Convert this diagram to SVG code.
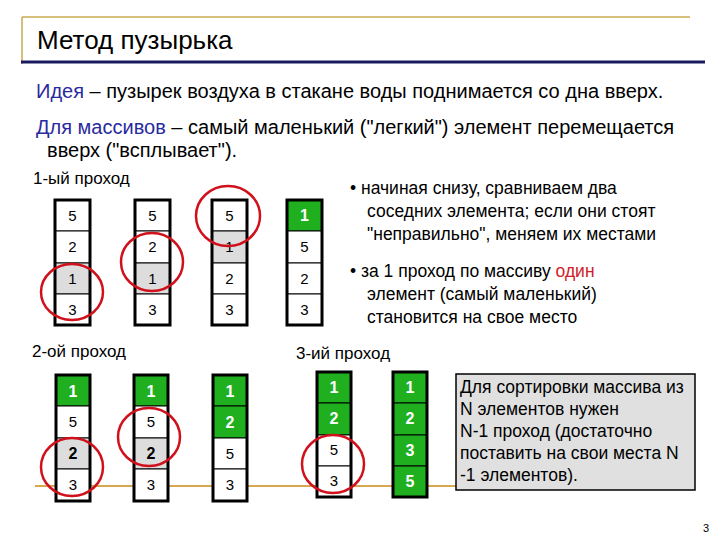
<svg xmlns="http://www.w3.org/2000/svg" width="720" height="540" viewBox="0 0 720 540">
<style>
text{font-family:"Liberation Sans",Arial,sans-serif;}
.t{font-size:20px;fill:#000}
.c{fill:#fff;stroke:#000;stroke-width:1}
.g{fill:#ddd;stroke:#000;stroke-width:1}
.k{fill:#1faf1f;stroke:#000;stroke-width:1}
.n{font-size:15px;text-anchor:middle;fill:#000}
.w{font-size:16px;text-anchor:middle;fill:#fff;font-weight:bold}
.b{font-size:16px;text-anchor:middle;fill:#000;font-weight:bold}
.o{fill:none;stroke:#000;stroke-width:3}
.r{fill:none;stroke:#d0101a;stroke-width:2.5}
</style>
<rect width="720" height="540" fill="#fff"/>
<g id="title">
<line x1="22" y1="17" x2="690" y2="17" stroke="#c8a850" stroke-width="1.5"/>
<line x1="22" y1="17" x2="22" y2="64" stroke="#c8a850" stroke-width="1.5"/>
<line x1="21" y1="62" x2="705" y2="62" stroke="#1a1a60" stroke-width="3"/>
<text x="37" y="49" font-size="26" fill="#000">Метод пузырька</text>
</g>
<g id="intro" class="t">
<text x="36" y="98"><tspan fill="#2a2aa0">Идея</tspan> – пузырек воздуха в стакане воды поднимается со дна вверх.</text>
<text x="36" y="134"><tspan fill="#2a2aa0">Для массивов</tspan> – самый маленький ("легкий") элемент перемещается</text>
<text x="47" y="157">вверх ("всплывает").</text>
<text x="33" y="184" font-size="17">1-ый проход</text>
<text x="32" y="357" font-size="17">2-ой проход</text>
<text x="296" y="359" font-size="17">3-ий проход</text>
</g>
<g id="bullets" font-size="17.5">
<text x="350" y="194"><tspan>• начиная снизу, сравниваем два</tspan></text>
<text x="367" y="217">соседних элемента; если они стоят</text>
<text x="367" y="240">"неправильно", меняем их местами</text>
<text x="350" y="277">• за 1 проход по массиву <tspan fill="#d0202a">один</tspan></text>
<text x="367" y="300">элемент (самый маленький)</text>
<text x="367" y="323">становится на свое место</text>
</g>
<line x1="35" y1="486" x2="456" y2="486" stroke="#d8a850" stroke-width="2"/>
<g id="pass1">
<rect class="c" x="55" y="200" width="35" height="31"/><text class="n" x="72.5" y="221">5</text>
<rect class="c" x="55" y="231" width="35" height="32"/><text class="n" x="72.5" y="252">2</text>
<rect class="g" x="55" y="263" width="35" height="31"/><text class="n" x="72.5" y="284">1</text>
<rect class="c" x="55" y="294" width="35" height="31"/><text class="n" x="72.5" y="315">3</text>
<rect class="o" x="55" y="200" width="35" height="125"/>
<rect class="c" x="135" y="200" width="35" height="31"/><text class="n" x="152.5" y="221">5</text>
<rect class="c" x="135" y="231" width="35" height="32"/><text class="n" x="152.5" y="252">2</text>
<rect class="g" x="135" y="263" width="35" height="31"/><text class="n" x="152.5" y="284">1</text>
<rect class="c" x="135" y="294" width="35" height="31"/><text class="n" x="152.5" y="315">3</text>
<rect class="o" x="135" y="200" width="35" height="125"/>
<rect class="c" x="212" y="200" width="35" height="31"/><text class="n" x="229.5" y="221">5</text>
<rect class="g" x="212" y="231" width="35" height="32"/><text class="n" x="229.5" y="252">1</text>
<rect class="c" x="212" y="263" width="35" height="31"/><text class="n" x="229.5" y="284">2</text>
<rect class="c" x="212" y="294" width="35" height="31"/><text class="n" x="229.5" y="315">3</text>
<rect class="o" x="212" y="200" width="35" height="125"/>
<rect class="k" x="287" y="200" width="35" height="31"/><text class="w" x="304.5" y="221">1</text>
<rect class="c" x="287" y="231" width="35" height="32"/><text class="n" x="304.5" y="252">5</text>
<rect class="c" x="287" y="263" width="35" height="31"/><text class="n" x="304.5" y="284">2</text>
<rect class="c" x="287" y="294" width="35" height="31"/><text class="n" x="304.5" y="315">3</text>
<rect class="o" x="287" y="200" width="35" height="125"/>
<ellipse class="r" cx="72" cy="292" rx="31" ry="28"/>
<ellipse class="r" cx="152" cy="262" rx="31" ry="29"/>
<ellipse class="r" cx="228" cy="216" rx="32" ry="30"/>
</g>
<g id="pass2">
<rect class="k" x="56" y="375" width="34" height="31"/><text class="w" x="73" y="397">1</text>
<rect class="c" x="56" y="406" width="34" height="32"/><text class="n" x="73" y="427">5</text>
<rect class="g" x="56" y="438" width="34" height="31"/><text class="b" x="73" y="459">2</text>
<rect class="c" x="56" y="469" width="34" height="32"/><text class="n" x="73" y="490">3</text>
<rect class="o" x="56" y="375" width="34" height="126"/>
<rect class="k" x="134" y="375" width="34" height="31"/><text class="w" x="151" y="397">1</text>
<rect class="c" x="134" y="406" width="34" height="32"/><text class="n" x="151" y="427">5</text>
<rect class="g" x="134" y="438" width="34" height="31"/><text class="b" x="151" y="459">2</text>
<rect class="c" x="134" y="469" width="34" height="32"/><text class="n" x="151" y="490">3</text>
<rect class="o" x="134" y="375" width="34" height="126"/>
<rect class="k" x="213" y="375" width="34" height="31"/><text class="w" x="230" y="397">1</text>
<rect class="k" x="213" y="406" width="34" height="32"/><text class="w" x="230" y="428">2</text>
<rect class="c" x="213" y="438" width="34" height="31"/><text class="n" x="230" y="459">5</text>
<rect class="c" x="213" y="469" width="34" height="32"/><text class="n" x="230" y="490">3</text>
<rect class="o" x="213" y="375" width="34" height="126"/>
<ellipse class="r" cx="72" cy="467" rx="31" ry="29"/>
<ellipse class="r" cx="149" cy="437" rx="31" ry="29"/>
</g>
<g id="pass3">
<rect class="k" x="317" y="372" width="34" height="31"/><text class="w" x="334" y="393">1</text>
<rect class="k" x="317" y="403" width="34" height="32"/><text class="w" x="334" y="424">2</text>
<rect class="c" x="317" y="435" width="34" height="31"/><text class="n" x="334" y="455">5</text>
<rect class="c" x="317" y="466" width="34" height="31"/><text class="n" x="334" y="486">3</text>
<rect class="o" x="317" y="372" width="34" height="125"/>
<rect class="k" x="393" y="372" width="34" height="31"/><text class="w" x="410" y="393">1</text>
<rect class="k" x="393" y="403" width="34" height="32"/><text class="w" x="410" y="424">2</text>
<rect class="k" x="393" y="435" width="34" height="31"/><text class="w" x="410" y="456">3</text>
<rect class="k" x="393" y="466" width="34" height="31"/><text class="w" x="410" y="487">5</text>
<rect class="o" x="393" y="372" width="34" height="125"/>
<ellipse class="r" cx="333" cy="464" rx="31" ry="29"/>
</g>
<g id="note">
<rect x="456" y="374" width="239" height="116" fill="#e0e0e0" stroke="#000" stroke-width="1.5"/>
<g font-size="17.5" fill="#000">
<text x="460" y="393">Для сортировки массива из</text>
<text x="460" y="415">N элементов нужен</text>
<text x="460" y="437">N-1 проход  (достаточно</text>
<text x="460" y="459">поставить на свои места N</text>
<text x="460" y="481">-1 элементов).</text>
</g>
</g>
<text x="703" y="532" font-size="11" fill="#000">3</text>
</svg>
